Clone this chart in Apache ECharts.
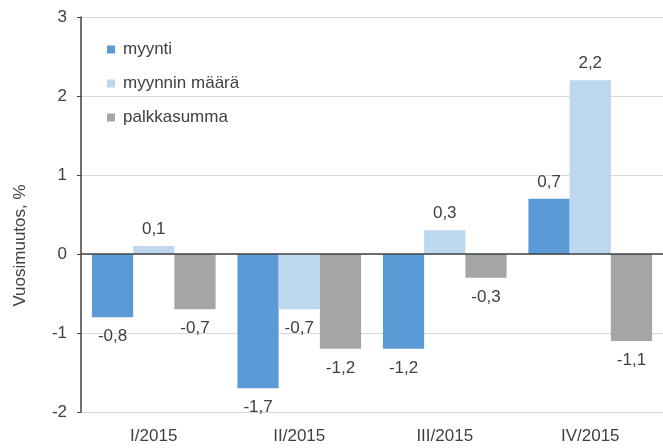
<!DOCTYPE html>
<html>
<head>
<meta charset="utf-8">
<script src="https://cdn.jsdelivr.net/npm/echarts@6/dist/echarts.min.js"></script>
<style>
  html, body { margin: 0; padding: 0; background: #fff; }
  #chart { width: 663px; height: 448px; }
</style>
</head>
<body>
<div id="chart"></div>
<script>
const categories = ['I/2015', 'II/2015', 'III/2015', 'IV/2015']
const myynti = [-0.8, -1.7, -1.2, 0.7]
const myynninMaara = [0.1, -0.7, 0.3, 2.2]
const palkkasumma = [-0.7, -1.2, -0.3, -1.1]
const yTicks = [-2, -1, 0, 1, 2, 3]

const font = 'Liberation Sans, Arial, sans-serif'
const textColor = '#404040'

// positive labels above the bar, negative ones below it
const withLabels = (values) => values.map(v => ({
  value: v,
  label: { position: v >= 0 ? 'top' : 'bottom', distance: v >= 0 ? 8 : 11 }
}))

const barSeries = (name, values, color, extra = {}) => ({
  name,
  type: 'bar',
  data: withLabels(values),
  barGap: '0%',
  barCategoryGap: '15%',
  itemStyle: { color },
  label: {
    show: true,
    color: textColor,
    fontFamily: font,
    fontSize: 17,
    formatter: p => String(p.value).replace('.', ',')
  },
  ...extra
})

const chart = echarts.init(document.getElementById('chart'))

chart.setOption({
  animation: false,
  textStyle: { fontFamily: font },
  grid: { left: 81, top: 17, width: 585, bottom: 36, containLabel: false },
  legend: {
    orient: 'vertical',
    left: 102,
    top: 36,
    itemWidth: 8,
    itemHeight: 8,
    itemGap: 17,
    icon: 'rect',
    textStyle: { color: textColor, fontSize: 17, fontFamily: font, padding: [0, 0, 0, 3] },
    data: ['myynti', 'myynnin määrä', 'palkkasumma']
  },
  xAxis: {
    type: 'category',
    data: categories,
    axisLine: { show: false, onZero: false },
    axisTick: { show: false },
    axisLabel: { color: textColor, fontSize: 17, fontFamily: font, margin: 16 }
  },
  yAxis: {
    type: 'value',
    min: yTicks[0],
    max: yTicks[yTicks.length - 1],
    interval: 1,
    name: 'Vuosimuutos, %',
    nameLocation: 'middle',
    nameGap: 52,
    nameTextStyle: { color: textColor, fontSize: 17, fontFamily: font, padding: [0, 62, 0, 0] },
    axisLine: { show: true, lineStyle: { color: '#404040', width: 1.5 } },
    axisTick: { show: true, length: 4, lineStyle: { color: '#404040' } },
    axisLabel: { color: textColor, fontSize: 17, fontFamily: font, margin: 14 },
    splitLine: { lineStyle: { color: '#d9d9d9', width: 1 } }
  },
  series: [
    barSeries('myynti', myynti, '#5b9bd5', {
      markLine: {
        silent: true,
        symbol: 'none',
        label: { show: false },
        lineStyle: { color: '#404040', width: 1.5, type: 'solid' },
        data: [{ yAxis: 0 }]
      }
    }),
    barSeries('myynnin määrä', myynninMaara, '#bdd7ee'),
    barSeries('palkkasumma', palkkasumma, '#a5a5a5')
  ]
})

window.addEventListener('resize', () => chart.resize())
</script>
</body>
</html>
